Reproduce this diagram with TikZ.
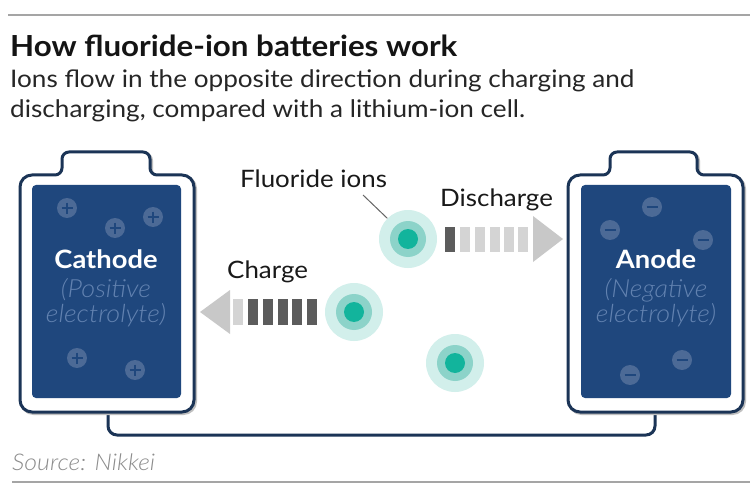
\documentclass[tikz,border=0pt]{standalone}
\usepackage{fontspec}
\setmainfont{Lato}[FakeStretch=1.08]
\IfFontExistsTF{Lato Light}{\newfontfamily\lightf{Lato Light}[FakeStretch=1.08]}{\newfontfamily\lightf{Lato}[FakeStretch=1.08]}
\begin{document}
\begin{tikzpicture}[x=1pt,y=-1pt,
  every node/.style={inner sep=0pt},
  battline/.style={draw=navy,line width=3pt,fill=white,line join=round},
  shadowline/.style={draw=black!25,line width=3pt,line join=round},
  wire/.style={draw=navy,line width=3pt,rounded corners=9pt},
  cell/.style={fill=cellblue,rounded corners=4pt},
  sign/.style={circle,fill=signc,minimum size=20pt},
  ionout/.style={circle,fill=tealA,minimum size=58pt},
  ionmid/.style={circle,fill=tealB,minimum size=36pt},
  ioncore/.style={circle,fill=tealC,minimum size=20pt},
  lab/.style={font=\fontsize{24}{28}\selectfont,text=black!90,anchor=base west},
  elname/.style={font=\fontsize{25.3}{30}\selectfont\bfseries,text=white,anchor=base},
  elsub/.style={font=\lightf\fontsize{25}{28}\selectfont\itshape,text=lbl,anchor=base},
  darkbar/.style={fill=bardark},
  lightbar/.style={fill=barlight},
  head/.style={fill=headgray}
]
\definecolor{navy}{RGB}{27,52,86}
\definecolor{cellblue}{RGB}{31,71,125}
\definecolor{signc}{RGB}{76,106,150}
\definecolor{lbl}{RGB}{98,130,176}
\definecolor{tealA}{RGB}{210,239,235}
\definecolor{tealB}{RGB}{140,211,201}
\definecolor{tealC}{RGB}{18,180,156}
\definecolor{bardark}{RGB}{92,92,92}
\definecolor{barlight}{RGB}{212,212,212}
\definecolor{headgray}{RGB}{200,200,200}
\definecolor{rulegray}{RGB}{165,165,165}

\useasboundingbox (0,0) rectangle (750,500);
\fill[white] (0,0) rectangle (750,500);

% rules
\draw[rulegray,line width=2pt] (8,15) -- (750,15);
\draw[rulegray,line width=2pt] (12,482) -- (750,482);

% title
\node[anchor=base west,font=\fontsize{29}{32}\selectfont\bfseries,text=black!92] (title) at (10,57) {How fluoride-ion batteries work};
\node[anchor=base west,font=\fontsize{24.2}{30}\selectfont,text=black!85] (sub1) at (10,88) {Ions flow in the opposite direction during charging and};
\node[anchor=base west,font=\fontsize{24.2}{30}\selectfont,text=black!85] (sub2) at (10,118) {discharging, compared with a lithium-ion cell.};

% wire
\coordinate (wl) at (108,410);
\coordinate (wr) at (655,410);
\draw[wire] (wl) -- (108,435) -- (655,435) -- (wr);

% left battery
\draw[shadowline,xshift=1.5pt,yshift=-1.5pt,rounded corners=7pt] (106,152) -- (150,152) -- (150,175) [rounded corners=12pt] -- (194,175) -- (194,412) -- (20,412) -- (20,175) [rounded corners=7pt] -- (62,175) -- (62,152) -- cycle;
\draw[battline,rounded corners=7pt] (106,152) -- (150,152) -- (150,175) [rounded corners=12pt] -- (194,175) -- (194,412) -- (20,412) -- (20,175) [rounded corners=7pt] -- (62,175) -- (62,152) -- cycle;
\fill[cell] (32,185) rectangle (181,398);
\foreach \p/\q in {67/208,115/228,153/217,77/358,135/370}{
  \node[sign] at (\p,\q) {};
  \draw[cellblue,line width=2.6pt] (\p-5.5,\q) -- (\p+5.5,\q) (\p,\q-5.5) -- (\p,\q+5.5);
}
\node[elname] (cath) at (106,268) {Cathode};
\node[elsub] (cath2) at (106,297) {(Positive};
\node[elsub] (cath3) at (106,322) {electrolyte)};

% right battery
\draw[shadowline,xshift=1.5pt,yshift=-1.5pt,rounded corners=7pt] (653,152) -- (697,152) -- (697,175) [rounded corners=12pt] -- (743,175) -- (743,412) -- (568,412) -- (568,175) [rounded corners=7pt] -- (610,175) -- (610,152) -- cycle;
\draw[battline,rounded corners=7pt] (653,152) -- (697,152) -- (697,175) [rounded corners=12pt] -- (743,175) -- (743,412) -- (568,412) -- (568,175) [rounded corners=7pt] -- (610,175) -- (610,152) -- cycle;
\fill[cell] (581,185) rectangle (731,398);
\foreach \p/\q in {652/207,610/230,703/240,682/360,630/375}{
  \node[sign] at (\p,\q) {};
  \draw[cellblue,line width=2.6pt] (\p-5.5,\q) -- (\p+5.5,\q);
}
\node[elname] (anode) at (656,268) {Anode};
\node[elsub] (anode2) at (656,297) {(Negative};
\node[elsub] (anode3) at (656,322) {electrolyte)};

% ions
\foreach \n/\p/\q in {ionA/408/239,ionB/354/312,ionC/455/363}{
  \node[ionout] (\n) at (\p,\q) {};
  \node[ionmid] at (\p,\q) {};
  \node[ioncore] at (\p,\q) {};
}

% labels
\node[lab] (fl) at (240,188) {Fluoride ions};
\coordinate (flend) at (363,195);
\draw[black!60,line width=1pt] (flend) -- (ionA.north west);

\node[lab] (dis) at (440,206) {Discharge};
\node[lab] (chg) at (227,278) {Charge};

% discharge arrow
\fill[darkbar] (445,227) rectangle (455,252);
\foreach \x in {460,475,490,504,518}{\fill[lightbar] (\x,227) rectangle (\x+10,252);}
\fill[head] (533,216) -- (563,239) -- (533,262) -- cycle;

% charge arrow
\fill[lightbar] (233,299) rectangle (243,325);
\foreach \x in {248,263,278,292,307}{\fill[darkbar] (\x,299) rectangle (\x+10,325);}
\fill[head] (230,290) -- (200,312) -- (230,334) -- cycle;

% source
\node[anchor=base west,font=\lightf\fontsize{23}{26}\selectfont\itshape,text=black!45] (src) at (12,470) {Source: Nikkei};
\end{tikzpicture}
\end{document}
